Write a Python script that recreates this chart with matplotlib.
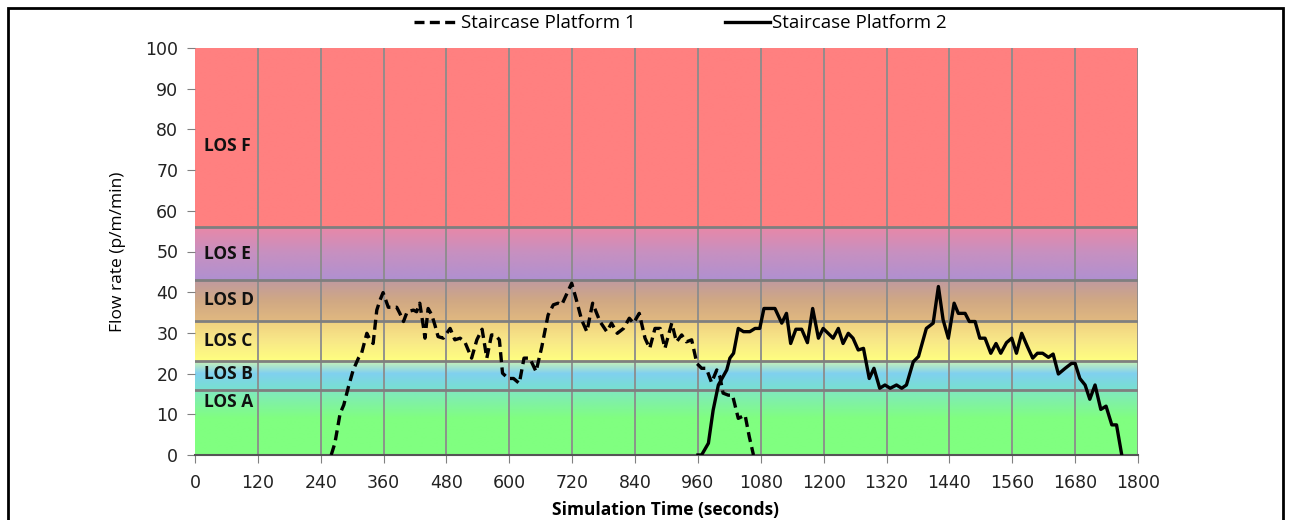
import numpy as np
import matplotlib.pyplot as plt
from matplotlib.colors import to_rgb
from matplotlib.patches import Rectangle

# level of service bands (upper limits) and labels
los_names = ['LOS A', 'LOS B', 'LOS C', 'LOS D', 'LOS E', 'LOS F']
los_upper = [16, 23, 33, 43, 56, 100]
los_label_y = [13, 20, 28, 38, 49.5, 76]

# staircase platform 1 (dashed)
t1 = [260, 267, 277, 284, 293, 302, 312, 318, 328, 334, 340, 347, 353, 359, 369,
      385, 391, 398, 405, 417, 423, 429, 436, 439, 445, 452, 458, 464, 474, 487,
      496, 506, 515, 528, 538, 548, 557, 566, 573, 581, 587, 598, 608, 619, 628,
      639, 651, 662, 674, 684, 693, 700, 719, 728, 738, 748, 759, 773, 786, 795,
      806, 818, 829, 837, 848, 859, 868, 878, 888, 897, 910, 919, 929, 938, 948,
      958, 967, 976, 986, 996, 1002, 1008, 1018, 1026, 1037, 1050, 1058, 1066]
v1 = [0, 2.9, 10.2, 12.3, 16.8, 20.9, 23.8, 25, 29.9, 28.3, 27.4, 35.6, 38, 39.9, 36.3,
      36.3, 34.8, 32.8, 35.2, 35.6, 35.2, 37.3, 31.5, 28.7, 36, 34.4, 31.9, 29.1, 28.7, 31.1,
      28.3, 28.7, 27.8, 23.8, 28.3, 30.9, 23.8, 29.5, 29.5, 28.3, 20.1, 18.8, 18.8, 17.6, 23.8,
      23.8, 20.5, 26.6, 34.4, 36.9, 37.3, 36.9, 42.2, 38.1, 33.2, 30.3, 37.3, 32.8, 30.3, 32.4,
      29.9, 31.1, 33.6, 32.4, 34.8, 28.7, 26.2, 31.1, 31.1, 26.2, 32.4, 27.8, 29.5, 27.8, 28.3,
      22.5, 21.3, 21.3, 17.8, 20.9, 19.2, 15.2, 14.7, 14.7, 9.0, 9.8, 4.5, 0]

# staircase platform 2 (solid)
t2 = [960, 967, 980, 989, 999, 1015, 1021, 1028, 1037, 1047, 1059, 1069, 1078, 1086, 1107,
      1120, 1129, 1137, 1147, 1158, 1169, 1179, 1190, 1199, 1218, 1228, 1237, 1247, 1256, 1266,
      1276, 1287, 1296, 1307, 1317, 1327, 1339, 1349, 1358, 1371, 1381, 1396, 1409, 1419, 1428,
      1438, 1449, 1457, 1470, 1478, 1489, 1498, 1508, 1519, 1529, 1538, 1549, 1559, 1568, 1578,
      1589, 1599, 1608, 1618, 1629, 1638, 1648, 1661, 1673, 1680, 1689, 1699, 1708, 1718, 1729,
      1739, 1750, 1759, 1769]
v2 = [0, 0, 2.9, 11, 17.2, 20.9, 23.8, 25, 31.1, 30.3, 30.3, 31.1, 31.1, 36, 36,
      32.4, 34.8, 27.4, 30.9, 30.9, 27.6, 36, 28.7, 31.1, 28.7, 31.1, 27.4, 29.9, 28.7, 25.8,
      26.2, 18.8, 21.3, 16.4, 17.2, 16.4, 17.2, 16.4, 17.2, 22.9, 24.2, 31.1, 32.4, 41.4, 33.2,
      28.7, 37.3, 34.8, 34.8, 32.8, 32.8, 28.7, 28.7, 25, 27.4, 25, 27.6, 28.7, 25, 29.9,
      26.6, 23.8, 25, 25, 24, 24.8, 19.9, 21.3, 22.5, 22.5, 18.8, 17.2, 13.7, 17.2, 11.2,
      12, 7.4, 7.4, 0]

xticks = list(range(0, 1801, 120))

# background gradient colour stops (value, colour)
stops = [(0, '#80ff80'), (9, '#80ff80'), (15.9, '#80e8c0'),
         (16.1, '#78e0d0'), (20, '#80d0f0'), (22.9, '#c8f0b8'),
         (23.1, '#ffff80'), (28, '#f8e888'), (32.9, '#f0d080'),
         (33.1, '#e0b880'), (38, '#d0a884'), (42.9, '#c09aa0'),
         (43.1, '#b090d0'), (50, '#c890c0'), (55.9, '#e888a8'),
         (56.1, '#ff8080'), (100, '#ff8080')]

yy = np.linspace(0, 100, 1001)
sv = [s[0] for s in stops]
sc = np.array([to_rgb(s[1]) for s in stops])
grad = np.stack([np.interp(yy, sv, sc[:, k]) for k in range(3)], axis=1)
img = np.repeat(grad[:, None, :], 2, axis=1)

fig = plt.figure(figsize=(12.91, 5.2), dpi=100)
ax = fig.add_axes([195 / 1291, 1 - 455 / 520, (1138 - 195) / 1291, (455 - 48) / 520])

ax.imshow(img, origin='lower', aspect='auto', extent=[0, 1800, 0, 100],
          interpolation='bilinear', zorder=0)

for x in xticks[1:]:
    ax.axvline(x, color='#8c8c8c', lw=1.3, zorder=1)
for y in los_upper[:-1]:
    ax.axhline(y, color='#7f7f7f', lw=2, zorder=1)

for name, y in zip(los_names, los_label_y):
    ax.text(18, y, name, fontsize=12.5, fontweight='bold', va='center', ha='left',
            color='#111111', family='Open Sans', zorder=2)

ax.plot(t1, v1, color='black', lw=2.4, ls=(0, (3, 1.6)), label='Staircase Platform 1', zorder=3)
ax.plot(t2, v2, color='black', lw=2.4, ls='-', label='Staircase Platform 2', zorder=3)

ax.set_xlim(0, 1800)
ax.set_ylim(0, 100)
ax.set_xticks(xticks)
ax.set_yticks(range(0, 101, 10))
ax.tick_params(axis='both', labelsize=12.5, colors='#222222', length=6, color='#808080')
ax.tick_params(axis='x', pad=8)
ax.tick_params(axis='y', pad=6)
for s in ['top', 'right', 'left']:
    ax.spines[s].set_visible(False)
ax.spines['bottom'].set_color('#555555')
ax.spines['bottom'].set_linewidth(1.5)

ax.set_ylabel('Flow rate (p/m/min)', fontsize=12.5, family='Open Sans', labelpad=14)
fig.text(666 / 1291, 10 / 520, 'Simulation Time (seconds)', fontsize=12.5,
         fontweight='bold', family='Open Sans', ha='center', va='center')

fig.legend(loc='upper center', bbox_to_anchor=(0.527, 1.005), ncol=2, frameon=False,
           handlelength=2.4, handletextpad=0.1, columnspacing=4.8,
           prop={'family': 'Open Sans', 'size': 13.5})

# frame around the whole chart
fig.patches.append(Rectangle((8 / 1291, -0.1), 1275 / 1291, 1.1 - 8 / 520,
                             transform=fig.transFigure, fill=False,
                             edgecolor='black', lw=2))

fig.savefig('out.png', dpi=100)
